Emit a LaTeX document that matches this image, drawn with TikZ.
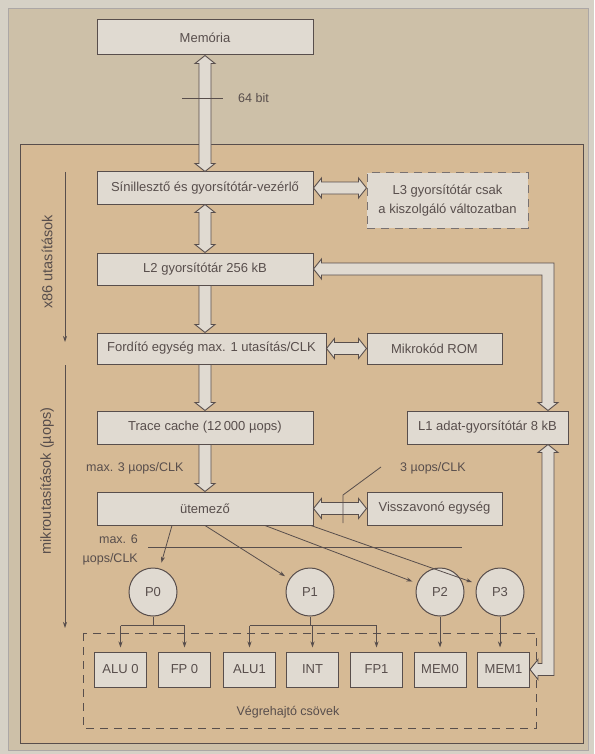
\documentclass[tikz,border=0pt]{standalone}
\usepackage{fontspec}
\setmainfont{Liberation Sans}
\usetikzlibrary{arrows.meta,calc}
\definecolor{paper}{RGB}{214,209,198}
\definecolor{outerbg}{RGB}{205,192,168}
\definecolor{innerbg}{RGB}{214,186,149}
\definecolor{boxfill}{RGB}{224,218,209}
\definecolor{ink}{RGB}{88,78,76}
\newcommand\unitfont{\fontsize{13}{19}\selectfont}
\newcommand\notefont{\fontsize{12.5}{19}\selectfont}
\newcommand\sidefont{\fontsize{14.5}{17}\selectfont}
\def\fatw{6pt}\def\fath{10pt}\def\fatl{8pt}
% hollow bus arrows
\newcommand\busv[2]{\draw[fat] let \p1=(#1), \p2=(#2) in
  (\x1,\y1) -- (\x1+\fath,\y1-\fatl) -- (\x1+\fatw,\y1-\fatl) -- (\x1+\fatw,\y2+\fatl)
  -- (\x1+\fath,\y2+\fatl) -- (\x1,\y2) -- (\x1-\fath,\y2+\fatl) -- (\x1-\fatw,\y2+\fatl)
  -- (\x1-\fatw,\y1-\fatl) -- (\x1-\fath,\y1-\fatl) -- cycle;}
\newcommand\busdown[2]{\draw[fat] let \p1=(#1), \p2=(#2) in
  (\x1-\fatw,\y1) -- (\x1+\fatw,\y1) -- (\x1+\fatw,\y2+\fatl) -- (\x1+\fath,\y2+\fatl)
  -- (\x1,\y2) -- (\x1-\fath,\y2+\fatl) -- (\x1-\fatw,\y2+\fatl) -- cycle;}
\newcommand\bush[2]{\draw[fat] let \p1=(#1), \p2=(#2) in
  (\x1,\y1) -- (\x1+\fatl,\y1+\fath) -- (\x1+\fatl,\y1+\fatw) -- (\x2-\fatl,\y1+\fatw)
  -- (\x2-\fatl,\y1+\fath) -- (\x2,\y1) -- (\x2-\fatl,\y1-\fath) -- (\x2-\fatl,\y1-\fatw)
  -- (\x1+\fatl,\y1-\fatw) -- (\x1+\fatl,\y1-\fath) -- cycle;}
\newcommand\busbenddown[2]{\draw[fat] let \p1=(#1), \p2=(#2) in
  (\x1,\y1) -- (\x1+\fatl,\y1+\fath) -- (\x1+\fatl,\y1+\fatw) -- (\x2+\fatw,\y1+\fatw)
  -- (\x2+\fatw,\y2+\fatl) -- (\x2+\fath,\y2+\fatl) -- (\x2,\y2) -- (\x2-\fath,\y2+\fatl)
  -- (\x2-\fatw,\y2+\fatl) -- (\x2-\fatw,\y1-\fatw) -- (\x1+\fatl,\y1-\fatw)
  -- (\x1+\fatl,\y1-\fath) -- cycle;}
\newcommand\busbendup[2]{\draw[fat] let \p1=(#1), \p2=(#2) in
  (\x1,\y1) -- (\x1+\fatl,\y1+\fath) -- (\x1+\fatl,\y1+\fatw) -- (\x2-\fatw,\y1+\fatw)
  -- (\x2-\fatw,\y2-\fatl) -- (\x2-\fath,\y2-\fatl) -- (\x2,\y2) -- (\x2+\fath,\y2-\fatl)
  -- (\x2+\fatw,\y2-\fatl) -- (\x2+\fatw,\y1-\fatw) -- (\x1+\fatl,\y1-\fatw)
  -- (\x1+\fatl,\y1-\fath) -- cycle;}
\tikzset{
  unit/.style={draw=ink, fill=boxfill, line width=1pt, inner sep=0pt, text=ink, font=\unitfont},
  port/.style={unit, circle, minimum size=48pt},
  pipe/.style={unit, minimum width=52pt, minimum height=35pt},
  fat/.style={draw=ink, fill=boxfill, line width=0.9pt, line join=miter},
  thin/.style={draw=ink, line width=0.8pt},
  tip/.style={thin, -{Stealth[length=6pt,width=4pt]}},
  label/.style={text=ink, font=\notefont, inner sep=0pt},
  dashframe/.style={draw=ink, line width=1pt, dash pattern=on 8pt off 6pt}
}
\begin{document}
\begin{tikzpicture}[x=1pt,y=-1pt]
\useasboundingbox (0,0) rectangle (594,754);
\fill[paper] (0,0) rectangle (594,754);
\draw[ink!50, fill=outerbg] (8,8) rectangle (588,750);
\draw[ink, line width=1pt, fill=innerbg] (20,145) rectangle (583,743);
% boxes
\node[unit, minimum width=216pt, minimum height=35pt] (mem) at (205,37.5) {Memória};
\node[unit, minimum width=216pt, minimum height=32pt] (biu) at (205,188) {Sínillesztő és gyorsítótár-vezérlő};
\node[unit, dashframe, draw=ink!80, minimum width=161pt, minimum height=55pt, align=center] (l3) at (447.5,200.5)
  {L3 gyorsítótár csak\\a kiszolgáló változatban};
\node[unit, minimum width=216pt, minimum height=32pt] (l2) at (205,269) {L2 gyorsítótár 256 kB};
\node[unit, minimum width=229pt, minimum height=31pt] (dec) at (211.5,348.5) {Fordító egység max. 1 utasítás/CLK};
\node[unit, minimum width=135pt, minimum height=31pt] (rom) at (434.5,348.5) {Mikrokód ROM};
\node[unit, minimum width=216pt, minimum height=33pt] (trace) at (205,427.5) {Trace cache (12\,000 µops)};
\node[unit, minimum width=161pt, minimum height=33pt] (l1) at (487.5,427.5) {L1 adat-gyorsítótár 8 kB};
\node[unit, minimum width=216pt, minimum height=33pt] (sched) at (205,508.5) {ütemező};
\node[unit, minimum width=135pt, minimum height=33pt] (ret) at (434.5,508.5) {Visszavonó egység};
\coordinate (rail) at (548,0);
% side arrows
\node[label, font=\sidefont, rotate=90] (x86) at (47,262) {x86 utasítások};
\node[label, font=\sidefont, rotate=90] (uops) at (47,481) {mikroutasítások (µops)};
\coordinate (x86a) at (65,172); \coordinate (x86b) at (65,342);
\coordinate (uopsa) at (65,365); \coordinate (uopsb) at (65,628);
\draw[tip] (x86a) -- (x86b);
\draw[tip] (uopsa) -- (uopsb);
% buses
\busv{mem.south}{biu.north}
\coordinate (w64a) at (182,98); \coordinate (w64b) at (223,98);
\draw[thin] (w64a) -- (w64b);
\node[label, anchor=west] (w64) at (238,98) {64 bit};
\bush{biu.east}{l3.west |- biu.east}
\busv{biu.south}{l2.north}
\busdown{l2.south}{dec.north -| l2.south}
\bush{dec.east}{rom.west}
\busdown{dec.south -| l2.south}{trace.north}
\busdown{trace.south}{sched.north}
\busbenddown{l2.east}{l1.north -| rail}
\node[label, anchor=west] (in3) at (86,468) {max. 3 µops/CLK};
\bush{sched.east}{ret.west}
\node[label, anchor=west] (out3) at (400,468) {3 µops/CLK};
\coordinate (o3a) at (381,467); \coordinate (o3b) at (343,495); \coordinate (o3c) at (343,523);
\draw[thin] (o3a) -- (o3b) -- (o3c);
% ports
\node[port] (p0) at (153,592) {P0};
\node[port] (p1) at (310,592) {P1};
\node[port] (p2) at (440,592) {P2};
\node[port] (p3) at (500,592) {P3};
\coordinate (d0) at ($(sched.south)+(-33,0)$);
\coordinate (d1) at (sched.south);
\coordinate (d2) at ($(sched.south)+(60,0)$);
\coordinate (d3) at ($(sched.south)+(106,0)$);
\draw[tip, shorten >=6pt] (d0) -- (p0);
\draw[tip, shorten >=5pt] (d1) -- (p1);
\draw[tip, shorten >=5pt] (d2) -- (p2);
\draw[tip, shorten >=5pt] (d3) -- (p3);
\coordinate (w6a) at (148,547); \coordinate (w6b) at (462,547);
\draw[thin] (w6a) -- (w6b);
\node[label, anchor=east, align=right] (in6) at (138,550) {max. 6\\µops/CLK};
% execution pipes
\draw[dashframe] (83,633) rectangle (536,728);
\node[label] (pipes) at (288,712) {Végrehajtó csövek};
\foreach \n/\t/\x in {alu0/ALU 0/120.5, fp0/FP 0/184.5, alu1/ALU1/249.5, int/INT/312.5,
  fp1/FP1/376.5, mem0/MEM0/440, mem1/MEM1/503.5}
  \node[pipe] (\n) at (\x,669.5) {\t};
\draw[thin] (p0.south) -- ++(0,9) coordinate (p0b);
\draw[thin] (alu0 |- p0b) -- (fp0 |- p0b);
\foreach \u in {alu0,fp0} \draw[tip, shorten >=4pt] (\u |- p0b) -- (\u.north);
\draw[thin] (p1.south) -- ++(0,9) coordinate (p1b);
\draw[thin] (alu1 |- p1b) -- (fp1 |- p1b);
\foreach \u in {alu1,int,fp1} \draw[tip, shorten >=4pt] (\u |- p1b) -- (\u.north);
\draw[tip, shorten >=4pt] (p2.south) -- (p2.south |- mem0.north);
\draw[tip, shorten >=4pt] (p3.south) -- (p3.south |- mem1.north);
\busbendup{mem1.east}{l1.south -| rail}
\end{tikzpicture}
\end{document}
